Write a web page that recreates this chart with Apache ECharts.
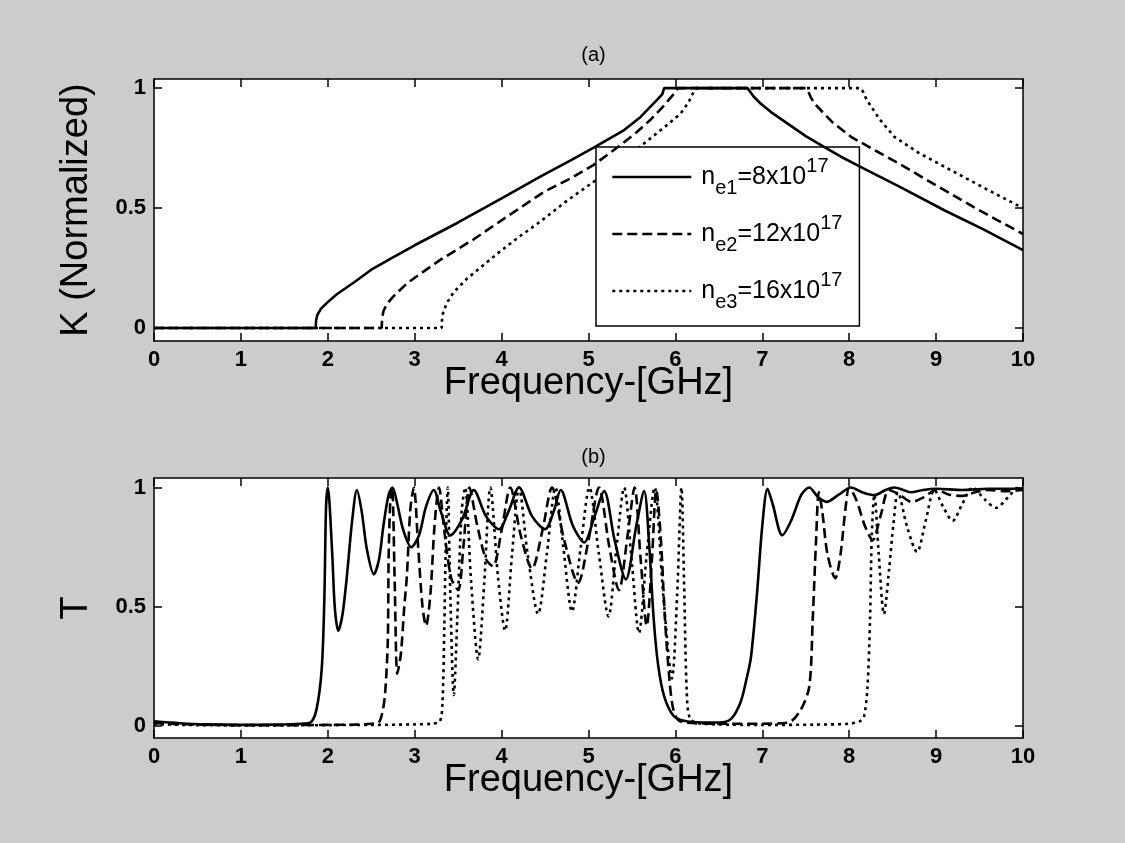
<!DOCTYPE html>
<html>
<head>
<meta charset="utf-8">
<title>K and T versus frequency</title>
<script src="https://cdn.jsdelivr.net/npm/echarts@6/dist/echarts.min.js"></script>
<style>
  html, body { margin: 0; padding: 0; background: #cccccc; }
  #chart { width: 1125px; height: 843px; }
</style>
</head>
<body>
<div id="chart"></div>
<script>
// ---- tick values and text ----
const freqTicks = [0, 1, 2, 3, 4, 5, 6, 7, 8, 9, 10];
const yTicks = [0, 0.5, 1];
const panelTitles = ['(a)', '(b)'];
const kAxisName = 'K (Normalized)';
const tAxisName = 'T';
const freqAxisName = 'Frequency-[GHz]';
const seriesNames = ['ne1', 'ne2', 'ne3'];
// [base, subscript, middle, superscript]
const legendLabels = [
  ['n', 'e1', '=8x10', '17'],
  ['n', 'e2', '=12x10', '17'],
  ['n', 'e3', '=16x10', '17']
];

// ---- panel (a): normalized K, [frequency GHz, K] ----
const kNe1 = [[0, 0], [1.86, 0], [1.865, 0.03], [1.88, 0.055], [1.92, 0.08], [1.99, 0.105],
  [2.1, 0.14], [2.3, 0.19], [2.5, 0.243], [2.75, 0.295], [3.0, 0.345], [3.5, 0.44],
  [4.0, 0.54], [4.45, 0.632], [4.8, 0.7], [5.06, 0.752], [5.41, 0.825], [5.6, 0.88],
  [5.71, 0.922], [5.8, 0.955], [5.85, 0.975], [5.87, 1.0], [6.83, 1.0], [6.86, 0.985],
  [6.9, 0.965], [6.98, 0.936], [7.1, 0.9], [7.3, 0.85], [7.5, 0.8], [7.71, 0.755],
  [7.9, 0.715], [8.13, 0.672], [8.6, 0.585], [9.1, 0.49], [9.55, 0.41], [10, 0.325]];
const kNe2 = [[0, 0], [2.62, 0], [2.625, 0.04], [2.64, 0.07], [2.68, 0.1], [2.75, 0.13],
  [2.91, 0.186], [3.1, 0.235], [3.29, 0.283], [3.68, 0.37], [4.06, 0.464], [4.49, 0.568],
  [4.8, 0.625], [5.06, 0.68], [5.37, 0.763], [5.55, 0.815], [5.71, 0.867], [5.85, 0.92],
  [5.98, 0.975], [6.01, 0.99], [6.03, 1.0], [7.5, 1.0], [7.53, 0.985], [7.56, 0.96],
  [7.6, 0.936], [7.8, 0.86], [8.02, 0.797], [8.3, 0.74], [8.55, 0.69], [9.0, 0.595],
  [9.5, 0.49], [10, 0.392]];
const kNe3 = [[0, 0], [3.31, 0], [3.315, 0.04], [3.33, 0.07], [3.38, 0.11], [3.45, 0.15],
  [3.6, 0.205], [3.95, 0.31], [4.2, 0.38], [4.45, 0.445], [4.75, 0.53], [5.06, 0.61],
  [5.4, 0.7], [5.71, 0.79], [5.9, 0.845], [6.06, 0.894], [6.15, 0.94], [6.19, 0.97],
  [6.22, 0.99], [6.24, 1.0], [8.13, 1.0], [8.16, 0.985], [8.19, 0.96], [8.23, 0.936],
  [8.35, 0.87], [8.52, 0.797], [8.8, 0.73], [9.17, 0.658], [9.6, 0.575], [10, 0.5]];

// ---- panel (b): transmission T, [frequency GHz, T] ----
const tNe1 = [[0, 0.02], [0.3, 0.012], [0.6, 0.007], [1.0, 0.005], [1.4, 0.006], [1.7, 0.01],
  [1.8, 0.015], [1.87, 0.07], [1.93, 0.24], [1.96, 0.53], [1.98, 0.92], [2.0, 1.0],
  [2.05, 0.73], [2.08, 0.5], [2.12, 0.4], [2.17, 0.47], [2.22, 0.63], [2.28, 0.86],
  [2.335, 0.99], [2.39, 0.9], [2.45, 0.74], [2.53, 0.636], [2.59, 0.7], [2.64, 0.84],
  [2.7, 0.97], [2.745, 1.0], [2.8, 0.93], [2.87, 0.82], [2.96, 0.75], [3.05, 0.8],
  [3.13, 0.92], [3.22, 0.99], [3.3, 0.9], [3.41, 0.8], [3.55, 0.87], [3.68, 0.99],
  [3.82, 0.88], [3.97, 0.825], [4.08, 0.9], [4.2, 1.0], [4.35, 0.88], [4.5, 0.825],
  [4.6, 0.9], [4.68, 0.99], [4.82, 0.84], [4.95, 0.77], [5.07, 0.88], [5.18, 0.985],
  [5.3, 0.78], [5.43, 0.615], [5.55, 0.84], [5.64, 0.985], [5.7, 0.75], [5.75, 0.45],
  [5.8, 0.26], [5.87, 0.126], [5.98, 0.042], [6.1, 0.022], [6.3, 0.015], [6.5, 0.015],
  [6.64, 0.03], [6.75, 0.1], [6.82, 0.2], [6.87, 0.29], [6.94, 0.56], [7.0, 0.84],
  [7.06, 0.995], [7.12, 0.93], [7.23, 0.8], [7.33, 0.86], [7.45, 0.97], [7.54, 1.0],
  [7.64, 0.96], [7.74, 0.94], [7.88, 0.97], [8.02, 1.0], [8.15, 0.98], [8.29, 0.968],
  [8.42, 0.99], [8.52, 1.0], [8.62, 0.99], [8.71, 0.98], [8.85, 0.99], [9.0, 0.995],
  [9.3, 0.99], [9.6, 0.995], [10, 0.995]];
const tNe2 = [[0, 0.012], [0.5, 0.006], [1.0, 0.004], [1.5, 0.004], [2.0, 0.005], [2.3, 0.006],
  [2.5, 0.01], [2.585, 0.015], [2.63, 0.06], [2.66, 0.14], [2.69, 0.35], [2.7, 0.7],
  [2.72, 0.95], [2.74, 1.0], [2.77, 0.6], [2.8, 0.22], [2.84, 0.3], [2.88, 0.5],
  [2.91, 0.63], [2.95, 0.91], [2.99, 1.0], [3.04, 0.75], [3.09, 0.5], [3.13, 0.42],
  [3.18, 0.55], [3.23, 0.85], [3.28, 1.0], [3.34, 0.82], [3.42, 0.62], [3.5, 0.57],
  [3.56, 0.75], [3.63, 1.0], [3.72, 0.84], [3.82, 0.7], [3.9, 0.67], [4.0, 0.82],
  [4.1, 1.0], [4.22, 0.8], [4.35, 0.66], [4.47, 0.82], [4.58, 1.0], [4.72, 0.78],
  [4.88, 0.6], [5.0, 0.78], [5.12, 1.0], [5.24, 0.75], [5.35, 0.57], [5.45, 0.8],
  [5.53, 1.0], [5.6, 0.7], [5.67, 0.42], [5.73, 0.7], [5.78, 0.99], [5.83, 0.8],
  [5.88, 0.45], [5.93, 0.2], [5.97, 0.08], [6.02, 0.03], [6.1, 0.015], [6.5, 0.01],
  [7.0, 0.01], [7.3, 0.015], [7.44, 0.067], [7.54, 0.165], [7.58, 0.445], [7.62, 0.79],
  [7.65, 0.98], [7.69, 0.9], [7.75, 0.72], [7.84, 0.62], [7.9, 0.72], [7.96, 0.92],
  [8.0, 1.0], [8.08, 0.95], [8.18, 0.84], [8.27, 0.78], [8.36, 0.88], [8.46, 0.99],
  [8.58, 0.97], [8.72, 0.94], [8.86, 0.96], [9.0, 0.99], [9.15, 0.97], [9.3, 0.965],
  [9.45, 0.98], [9.6, 0.99], [9.8, 0.985], [10, 0.99]];
const tNe3 = [[0, 0.008], [0.5, 0.004], [1.0, 0.003], [1.5, 0.003], [2.0, 0.004], [2.5, 0.005],
  [3.0, 0.007], [3.2, 0.01], [3.29, 0.02], [3.32, 0.1], [3.34, 0.4], [3.36, 0.8],
  [3.38, 1.0], [3.41, 0.55], [3.45, 0.13], [3.49, 0.45], [3.54, 0.9], [3.58, 1.0],
  [3.65, 0.6], [3.73, 0.28], [3.8, 0.6], [3.87, 1.0], [3.96, 0.62], [4.04, 0.4],
  [4.12, 0.72], [4.2, 1.0], [4.3, 0.72], [4.42, 0.47], [4.52, 0.72], [4.62, 1.0],
  [4.71, 0.75], [4.81, 0.48], [4.91, 0.75], [5.01, 1.0], [5.12, 0.72], [5.23, 0.46],
  [5.32, 0.74], [5.41, 1.0], [5.5, 0.68], [5.58, 0.39], [5.67, 0.72], [5.76, 1.0],
  [5.86, 0.55], [5.96, 0.2], [6.02, 0.55], [6.07, 1.0], [6.1, 0.6], [6.13, 0.15],
  [6.17, 0.03], [6.3, 0.01], [7.0, 0.005], [7.6, 0.006], [8.0, 0.01], [8.12, 0.02],
  [8.17, 0.04], [8.21, 0.16], [8.24, 0.45], [8.26, 0.8], [8.29, 0.97], [8.34, 0.72],
  [8.4, 0.47], [8.46, 0.66], [8.51, 0.85], [8.56, 0.98], [8.67, 0.83], [8.78, 0.73],
  [8.88, 0.86], [8.98, 0.99], [9.08, 0.92], [9.19, 0.86], [9.3, 0.93], [9.42, 1.0],
  [9.56, 0.95], [9.69, 0.915], [9.83, 0.96], [9.95, 1.0], [10, 0.995]];

// ---- styling ----
const FONT = '"Liberation Sans", Arial, Helvetica, sans-serif';
const INK = '#000000';
const lineTypes = ['solid', [10, 5], [3, 4]];
const LINE_W = 2.6;

const grids = [
  { left: 154, top: 79, width: 869, height: 262 },
  { left: 154, top: 478, width: 869, height: 260 }
];
const yRanges = [[-0.054, 1.038], [-0.05, 1.04]];

function xAxisFor(gridIndex, position, withLabels) {
  return {
    type: 'value', gridIndex, position,
    min: freqTicks[0], max: freqTicks[freqTicks.length - 1], interval: 1,
    axisLine: { show: true, onZero: false, lineStyle: { color: INK, width: 1.5 } },
    axisTick: { show: true, inside: true, length: 8, lineStyle: { color: INK, width: 1.5 } },
    axisLabel: {
      show: withLabels, color: INK, fontSize: 22, fontWeight: 'bold',
      fontFamily: FONT, margin: 8
    },
    splitLine: { show: false },
    name: withLabels ? freqAxisName : '',
    nameLocation: 'middle', nameGap: 43, nameMoveOverlap: false,
    nameTextStyle: { color: INK, fontSize: 38, fontFamily: FONT, verticalAlign: 'middle' }
  };
}

function yAxisFor(gridIndex, position, withLabels, name) {
  return {
    type: 'value', gridIndex, position,
    min: yRanges[gridIndex][0], max: yRanges[gridIndex][1],
    axisLine: { show: true, onZero: false, lineStyle: { color: INK, width: 1.5 } },
    axisTick: { show: true, inside: true, length: 8, customValues: yTicks,
      lineStyle: { color: INK, width: 1.5 } },
    axisLabel: {
      show: withLabels, customValues: yTicks, color: INK, fontSize: 22,
      fontWeight: 'bold', fontFamily: FONT, margin: 8
    },
    splitLine: { show: false },
    name: withLabels ? name : '',
    nameLocation: 'middle', nameGap: 58,
    nameTextStyle: { color: INK, fontSize: 38, fontFamily: FONT }
  };
}

function lineSeries(i, data, axisIndex) {
  return {
    type: 'line', name: seriesNames[i], data,
    xAxisIndex: axisIndex, yAxisIndex: axisIndex,
    symbol: 'none', showSymbol: false,
    smooth: axisIndex === 0 ? false : 0.3,
    lineStyle: { color: INK, width: LINE_W, type: lineTypes[i], cap: 'butt' },
    itemStyle: { color: INK },
    z: 5 - i,
    animation: false
  };
}

const chart = echarts.init(document.getElementById('chart'), null, { renderer: 'canvas' });
chart.setOption({
  backgroundColor: '#cccccc',
  animation: false,
  title: panelTitles.map((t, i) => ({
    text: t, left: grids[i].left + grids[i].width / 2, textAlign: 'center',
    top: i === 0 ? 40 : 442,
    textStyle: { color: INK, fontSize: 20, fontWeight: 'normal', fontFamily: FONT }
  })),
  grid: grids.map(g => Object.assign({ show: true, backgroundColor: '#ffffff', borderWidth: 0 }, g)),
  xAxis: [xAxisFor(0, 'bottom', true), xAxisFor(0, 'top', false),
          xAxisFor(1, 'bottom', true), xAxisFor(1, 'top', false)],
  yAxis: [yAxisFor(0, 'left', true, kAxisName), yAxisFor(0, 'right', false, ''),
          yAxisFor(1, 'left', true, tAxisName), yAxisFor(1, 'right', false, '')],
  legend: {
    orient: 'vertical', left: 596, top: 147,
    data: seriesNames,
    selectedMode: false,
    backgroundColor: '#ffffff', borderColor: INK, borderWidth: 1.5, borderRadius: 0,
    padding: [9, 17, 14, 15], itemGap: 15, itemWidth: 79, itemHeight: 14,
    lineStyle: { width: LINE_W },
    itemStyle: { opacity: 0 },
    formatter: name => {
      const p = legendLabels[seriesNames.indexOf(name)];
      return '{b1|' + p[0] + '}{sub|' + p[1] + '}{b|' + p[2] + '}{sup|' + p[3] + '}';
    },
    textStyle: {
      color: INK, fontFamily: FONT,
      rich: {
        b1: { fontSize: 25, lineHeight: 42, verticalAlign: 'middle', padding: [0, 0, 0, 5], color: INK, fontFamily: FONT },
        b: { fontSize: 25, lineHeight: 42, verticalAlign: 'middle', color: INK, fontFamily: FONT },
        sub: { fontSize: 20, lineHeight: 18, verticalAlign: 'bottom', color: INK, fontFamily: FONT },
        sup: { fontSize: 20, lineHeight: 22, verticalAlign: 'top', color: INK, fontFamily: FONT }
      }
    }
  },
  series: [
    lineSeries(2, kNe3, 0), lineSeries(1, kNe2, 0), lineSeries(0, kNe1, 0),
    lineSeries(2, tNe3, 2), lineSeries(1, tNe2, 2), lineSeries(0, tNe1, 2)
  ]
});
</script>
</body>
</html>
